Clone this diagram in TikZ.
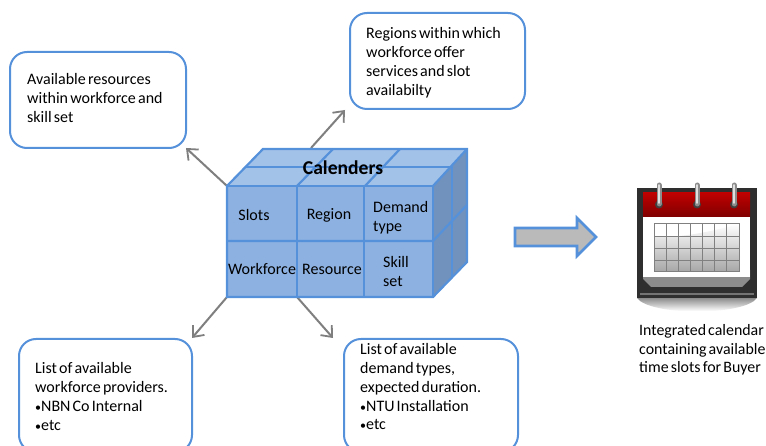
\documentclass[tikz,border=0pt]{standalone}
\usepackage{fontspec}
\setmainfont[WordSpace=0.6]{Carlito}
\usetikzlibrary{arrows.meta,shadings}
\definecolor{bl}{HTML}{5591DB}
\definecolor{frontc}{HTML}{8DB1E1}
\definecolor{topc}{HTML}{A3C2E8}
\definecolor{sidec}{HTML}{7092BC}
\definecolor{arrg}{HTML}{7F7F7F}
\newcommand{\bul}{{\fontsize{12}{12}\selectfont •}}
\tikzset{
 roundbox/.style={draw=bl,line width=2pt,fill=white,rounded corners=17pt},
 boxtext/.style={anchor=north west,align=left,inner sep=0pt,font=\fontsize{16}{18.9}\selectfont},
 celltext/.style={align=left,inner sep=0pt,font=\fontsize{16}{19}\selectfont},
 cubeline/.style={draw=bl,line width=2.2pt,line join=miter},
 conn/.style={draw=arrg,line width=2pt,-{Straight Barb[length=9pt,width=15pt,line width=1.8pt]}},
}
\begin{document}
\begin{tikzpicture}[x=1pt,y=-1pt]
\useasboundingbox (0,0) rectangle (766,446);
\clip (0,0) rectangle (766,446);
\fill[white] (0,0) rectangle (766,446);
% cube anchors
\coordinate (ftl) at (227,186);
\coordinate (fbl) at (227,297);
\coordinate (fm) at (297,297);
\coordinate (ttop) at (311,148);
% boxes
\draw[roundbox] (10,52) rectangle (186,148);
\coordinate (b1) at (186,148);
\draw[roundbox] (350,13) rectangle (525,109);
\coordinate (b2) at (345,110);
\draw[roundbox] (19,339) rectangle (192,452);
\coordinate (b3) at (192,338);
\draw[roundbox] (344,339) rectangle (518,452);
\coordinate (b4) at (333,338);
\node[boxtext] (t1) at (27,73.5) {Available resources\\within workforce and\\skill set};
\node[boxtext] (t2) at (366,27.5) {Regions within which\\workforce offer\\services and slot\\availabilty};
\node[boxtext] (t3) at (35,362) {List of available\\workforce providers.\\\bul NBN Co Internal\\\bul etc};
\node[boxtext] (t4) at (360,343) {List of available\\demand types,\\expected duration.\\\bul NTU Installation\\\bul etc};
% connectors
\draw[conn] (ftl) -- (b1);
\draw[conn] (ttop) -- (b2);
\draw[conn] (fbl) -- (b3);
\draw[conn] (fm) -- (b4);
% cube
\fill[topc] (227,186) -- (263,149) -- (467,149) -- (433,186) -- cycle;
\fill[sidec] (433,186) -- (467,149) -- (467,262) -- (433,297) -- cycle;
\fill[frontc] (227,186) rectangle (433,297);
\draw[cubeline] (227,186) -- (263,149) -- (467,149) -- (467,262) -- (433,297) -- (227,297) -- cycle;
\draw[cubeline] (227,241) -- (433,241) -- (467,205);
\draw[cubeline] (227,186) -- (433,186) -- (433,297);
\draw[cubeline] (297,186) -- (297,297);
\draw[cubeline] (364,186) -- (364,297);
\draw[cubeline] (297,186) -- (333,149);
\draw[cubeline] (365,186) -- (400,149);
\draw[cubeline] (433,186) -- (467,149);
\draw[cubeline] (245,167) -- (452,167) -- (452,277);
\node[inner sep=0pt,font=\fontsize{19.6}{20}\selectfont\bfseries] (title) at (343,167.5) {Calenders};
\node[celltext] (c1) at (254,215) {Slots};
\node[celltext] (c2) at (329,215) {Region};
\node[celltext,anchor=west] (c3) at (373,218) {Demand\\type};
\node[celltext] (c4) at (262,269.5) {Workforce};
\node[celltext] (c5) at (332,269.5) {Resource};
\node[celltext,anchor=west] (c6) at (383,272) {Skill\\set};
% block arrow
\draw[draw=bl,fill=black!27,line width=2.6pt,miter limit=10] (515,228) -- (577,228) -- (577,218) -- (596,237) -- (577,256) -- (577,246) -- (515,246) -- cycle;
% calendar
\begin{scope}
\clip (637,298) .. controls (650,316) and (744,316) .. (757,298) -- cycle;
\shade[top color=black!45,bottom color=white] (637,298) rectangle (757,311);
\end{scope}
\fill[black!82] (637,188) rectangle (757,298);
\fill[black!55] (640,293) rectangle (754,295);
\fill[black!45] (643,270) -- (750,270) -- (750,279) -- (742,287) -- (651,287) -- (643,279) -- cycle;
\fill[white] (643,215) rectangle (750,277);
\shade[top color=white,bottom color=black!35] (654,237) .. controls (680,238) and (710,232) .. (739,224) -- (739,272) -- (654,272) -- cycle;
\draw[black!50,line width=1pt] (654,224) rectangle (739,272);
\foreach \x in {666.1,678.3,690.4,702.6,714.7,726.9} \draw[black!50,line width=.9pt] (\x,224) -- (\x,272);
\foreach \y in {236,248,260} \draw[black!50,line width=.9pt] (654,\y) -- (739,\y);
\shade[top color=red!75!black,bottom color=red!50!black] (643,193) rectangle (750,217);
\foreach \x in {659,697,734}{
 \fill[black!75] (\x,204.5) circle (4);
 \draw[black!45,line width=5pt,line cap=round] (\x,185) -- (\x,204);
 \draw[black!12,line width=1.6pt,line cap=round] (\x,185) -- (\x,203);
}
\node[anchor=north west,align=left,inner sep=0pt,font=\fontsize{15.9}{18.3}\selectfont] (cap) at (639,324.5) {Integrated calendar\\containing available\\time slots for Buyer};
\end{tikzpicture}
\end{document}
